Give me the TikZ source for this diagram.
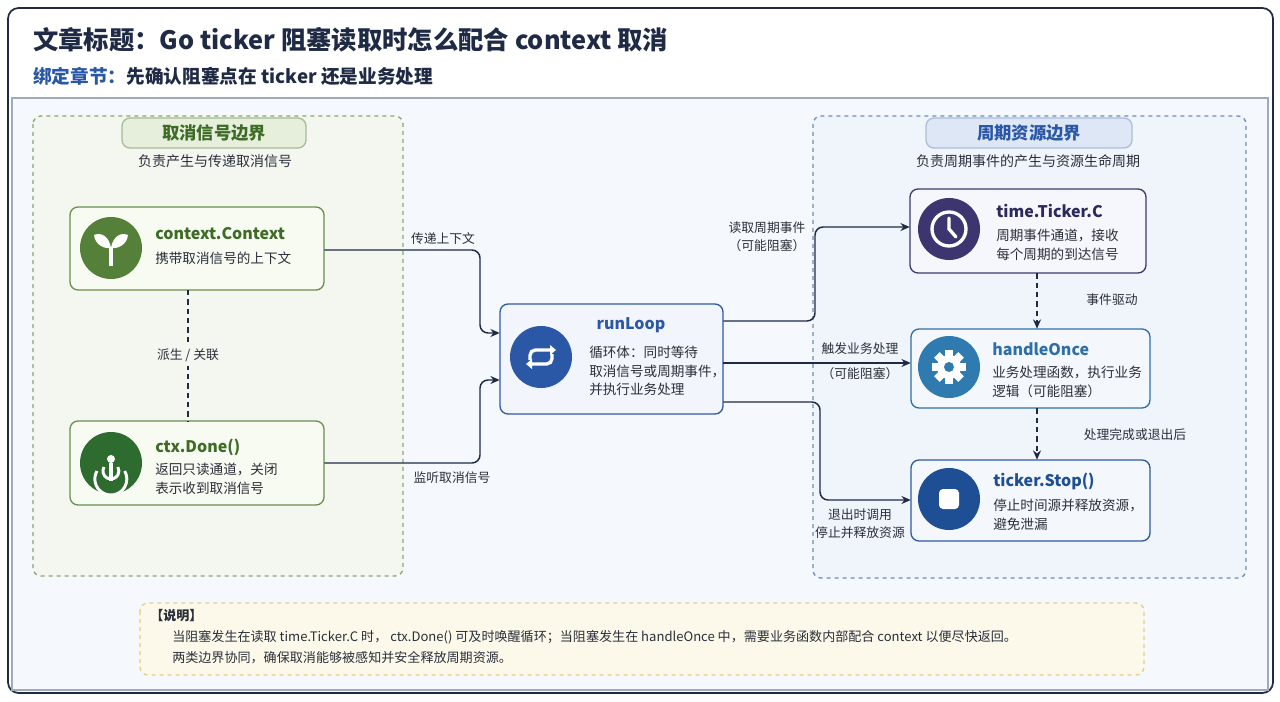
\documentclass[tikz,border=0pt]{standalone}
\usepackage{fontspec}
\setmainfont{Noto Sans CJK SC}
\usetikzlibrary{arrows.meta}
\definecolor{navy}{HTML}{1F2A44}
\definecolor{gborder}{HTML}{6B8F4E}
\definecolor{gtext}{HTML}{3E6B25}
\definecolor{bborder}{HTML}{2F5AA0}
\definecolor{btext}{HTML}{2B58A6}
\definecolor{txt}{HTML}{2A2F3A}
\definecolor{panel}{RGB}{245,248,252}
\definecolor{panelb}{RGB}{160,170,185}
\definecolor{gfill}{RGB}{243,247,240}
\definecolor{gtfill}{RGB}{230,239,220}
\definecolor{bfill}{RGB}{240,245,252}
\definecolor{btfill}{RGB}{221,231,245}
\definecolor{gnode}{RGB}{247,251,242}
\definecolor{leaf}{RGB}{85,128,58}
\definecolor{dgreen}{RGB}{46,107,46}
\definecolor{rnode}{RGB}{242,246,252}
\definecolor{rcirc}{RGB}{43,88,166}
\definecolor{tcb}{RGB}{61,58,112}
\definecolor{tcf}{RGB}{246,247,252}
\definecolor{tcc}{RGB}{59,54,112}
\definecolor{tct}{RGB}{44,42,92}
\definecolor{hob}{RGB}{47,111,168}
\definecolor{nf}{RGB}{244,248,252}
\definecolor{hoc}{RGB}{47,123,176}
\definecolor{stb}{RGB}{47,90,160}
\definecolor{stc}{RGB}{30,78,148}
\definecolor{noteb}{RGB}{227,207,138}
\definecolor{notef}{RGB}{253,249,234}
\begin{document}
\begin{tikzpicture}[x=0.75pt,y=-0.75pt,
  every node/.style={inner sep=0pt,text=txt},
  desc/.style={font=\fontsize{10.2}{14}\selectfont,anchor=west,align=left},
  lbl/.style={font=\fontsize{9.6}{13.5}\selectfont,align=center},
  ttl/.style={font=\fontsize{12}{14}\bfseries\selectfont,anchor=west},
  conn/.style={draw=navy,line width=1.1pt,rounded corners=6pt,-{Stealth[length=7pt,width=6pt]}},
  dconn/.style={draw=navy,line width=1.1pt,dash pattern=on 4pt off 3pt,-{Stealth[length=7pt,width=6pt]}},
  box/.style={rounded corners=6pt,line width=1pt}]
\useasboundingbox (0,0) rectangle (1280,702);
\fill[white] (0,0) rectangle (1280,702);
\draw[navy,line width=1.3pt,rounded corners=8pt,fill=white] (8,8) rectangle (1273,693);
\node[anchor=west,font=\fontsize{19}{21}\bfseries\selectfont,text=navy] (title) at (33,40) {文章标题：Go ticker 阻塞读取时怎么配合 context 取消};
\node[anchor=west,font=\fontsize{14}{16}\bfseries\selectfont] (sub) at (33,76) {\textcolor{btext}{绑定章节：}\textcolor{navy}{先确认阻塞点在 ticker 还是业务处理}};
\draw[fill=panel,draw=panelb,line width=0.8pt] (12,98) rectangle (1268,690);
% left group
\draw[box,dashed,draw=gborder!80,fill=gfill] (33,116) rectangle (403,576);
\node[box,draw=gborder!60,fill=gtfill,minimum width=184*0.75pt,minimum height=30*0.75pt,font=\fontsize{13}{14}\bfseries\selectfont,text=gtext] (lt) at (214,133) {取消信号边界};
\node[font=\fontsize{10.5}{13}\selectfont] (ls) at (215,161) {负责产生与传递取消信号};
% right group
\draw[box,dashed,draw=bborder!70,fill=bfill] (813,116) rectangle (1246,578);
\node[box,draw=bborder!40,fill=btfill,minimum width=206*0.75pt,minimum height=30*0.75pt,font=\fontsize{13}{14}\bfseries\selectfont,text=btext] (rt) at (1029,133) {周期资源边界};
\node[font=\fontsize{10.5}{13}\selectfont] (rs) at (1028,161) {负责周期事件的产生与资源生命周期};
% context
\draw[box,draw=gborder,fill=gnode] (70,207) rectangle (324,290);
\node[minimum width=254*0.75pt,minimum height=83*0.75pt] (ctx) at (197,248.5) {};
\fill[leaf] (111,248) circle (31);
\begin{scope}[shift={(111,248)},white]
\fill (-2,18) rectangle (2,0);
\fill (0,0) .. controls (-2,-12) and (-10,-16) .. (-17,-13) .. controls (-16,-4) and (-8,1) .. (0,0);
\fill (0,0) .. controls (2,-12) and (10,-16) .. (17,-13) .. controls (16,-4) and (8,1) .. (0,0);
\end{scope}
\node[ttl,text=gtext] at (155,234) {context.Context};
\node[desc] at (155,258) {携带取消信号的上下文};
% done
\draw[box,draw=gborder,fill=gnode] (70,421) rectangle (324,505);
\node[minimum width=254*0.75pt,minimum height=84*0.75pt] (done) at (197,463) {};
\fill[dgreen] (111,463) circle (31);
\begin{scope}[shift={(111,463)},white,line width=2.2pt]
\draw (-14,8) arc[start angle=210,end angle=-30,radius=16];
\draw (-7,4) arc[start angle=210,end angle=-30,radius=8];
\fill (0,-4) circle (4);
\fill (-2,0) rectangle (2,18);
\end{scope}
\node[ttl,text=gtext] at (155,447) {ctx.Done()};
\node[desc] at (155,479) {返回只读通道，关闭\\表示收到取消信号};
\draw[navy,line width=1.1pt,dash pattern=on 4pt off 3pt] (188,290) -- node[fill=gfill,inner sep=3pt,lbl]{派生 / 关联} (188,421);
% runLoop
\draw[box,draw=bborder,fill=rnode] (500,304) rectangle (723,414);
\node[minimum width=223*0.75pt,minimum height=110*0.75pt] (run) at (611.5,359) {};
\fill[rcirc] (541,357) circle (31);
\begin{scope}[shift={(541,357)},white,line width=2.5pt]
\draw[rounded corners=4pt] (-11,3) -- (-11,-7) -- (9,-7);
\draw[rounded corners=4pt] (11,-3) -- (11,7) -- (-9,7);
\fill (9,-12) -- (15,-7) -- (9,-2) -- cycle;
\fill (-9,12) -- (-15,7) -- (-9,2) -- cycle;
\end{scope}
\node[font=\fontsize{12}{14}\bfseries\selectfont,text=btext] at (631,325) {runLoop};
\node[desc] at (589,371) {循环体：同时等待\\取消信号或周期事件，\\并执行业务处理};
% ticker C
\draw[box,draw=tcb,fill=tcf] (910,189) rectangle (1146,273);
\node[minimum width=236*0.75pt,minimum height=84*0.75pt] (tc) at (1028,231) {};
\fill[tcc] (949,229) circle (31);
\draw[white,line width=2.5pt] (949,229) circle (17);
\draw[white,line width=2.5pt,line cap=round] (949,218) -- (949,229) -- (956,237);
\node[ttl,text=tct] at (996,211) {time.Ticker.C};
\node[desc] at (996,245) {周期事件通道，接收\\每个周期的到达信号};
% handleOnce
\draw[box,draw=hob,fill=nf] (911,329) rectangle (1150,408);
\node[minimum width=239*0.75pt,minimum height=79*0.75pt] (ho) at (1030.5,368.5) {};
\fill[hoc] (949,367) circle (31);
\begin{scope}[shift={(949,367)}]
\foreach \a in {0,45,...,315} \fill[white,rotate=\a] (-4,-17) rectangle (4,-10);
\fill[white] (0,0) circle (12);
\fill[hoc] (0,0) circle (5);
\end{scope}
\node[ttl,text=hob] at (992,349) {handleOnce};
\node[desc] at (992,382) {业务处理函数，执行业务\\逻辑（可能阻塞）};
% stop
\draw[box,draw=stb,fill=nf] (911,460) rectangle (1150,541);
\node[minimum width=239*0.75pt,minimum height=81*0.75pt] (st) at (1030.5,500.5) {};
\fill[stc] (949,499) circle (31);
\fill[white,rounded corners=3pt] (939,489) rectangle (959,509);
\node[ttl,text=stc] at (993,481) {ticker.Stop()};
\node[desc] at (993,515) {停止时间源并释放资源，\\避免泄漏};
% connectors
\draw[conn] (ctx.east|-0,250) -- (480,250) -- (480,333) -- (run.west|-0,333);
\node[lbl] at (443,239) {传递上下文};
\draw[conn] (done.east|-0,463) -- (480,463) -- (480,380) -- (run.west|-0,380);
\node[lbl] at (452,478) {监听取消信号};
\draw[conn] (run.east|-0,321) -- (815,321) -- (815,227) -- (tc.west|-0,227);
\node[lbl] at (767,237) {读取周期事件\\（可能阻塞）};
\draw[conn] (run.east|-0,363) -- (ho.west|-0,363);
\node[lbl] at (860,349) {触发业务处理};
\node[lbl] at (860,374) {（可能阻塞）};
\draw[conn] (run.east|-0,402) -- (820,402) -- (820,500) -- (st.west|-0,500);
\node[lbl] at (860,524) {退出时调用\\停止并释放资源};
\draw[dconn] (tc.south-|1037,0) -- (ho.north-|1037,0);
\node[lbl] at (1112,300) {事件驱动};
\draw[dconn] (ho.south-|1037,0) -- (st.north-|1037,0);
\node[lbl] at (1135,435) {处理完成或退出后};
% note
\draw[box,dashed,draw=noteb,fill=notef] (140,603) rectangle (1144,675);
\node[anchor=west,font=\fontsize{9.8}{12}\bfseries\selectfont] at (150,616) {【说明】};
\node[anchor=west,font=\fontsize{9.8}{12}\selectfont] at (172,637) {当阻塞发生在读取 time.Ticker.C 时， ctx.Done() 可及时唤醒循环；当阻塞发生在 handleOnce 中，需要业务函数内部配合 context 以便尽快返回。};
\node[anchor=west,font=\fontsize{9.8}{12}\selectfont] at (172,658) {两类边界协同，确保取消能够被感知并安全释放周期资源。};
\end{tikzpicture}
\end{document}
